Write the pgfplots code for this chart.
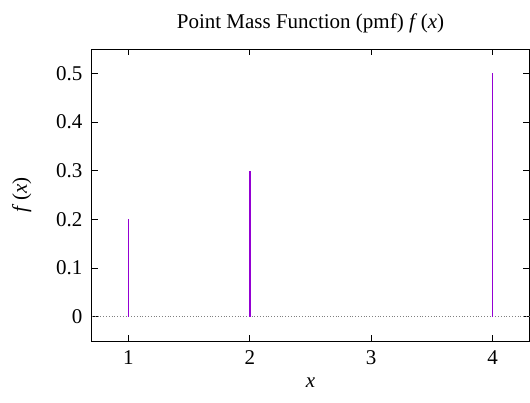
\documentclass[border=0pt]{standalone}
\usepackage{pgfplots}
\pgfplotsset{compat=1.18}
\usepackage{fontspec}
\setmainfont{Liberation Serif}
\definecolor{gpviolet}{RGB}{148,0,211}
\begin{document}
\begin{tikzpicture}[font=\fontsize{21}{25}\selectfont]
\begin{axis}[name=ax, scale only axis, width=437pt, height=292pt,
  xmin=0.7, xmax=4.3, ymin=-0.05, ymax=0.55,
  xtick={1,2,3,4}, ytick={0,0.1,0.2,0.3,0.4,0.5},
  tick align=inside, major tick length=6pt,
  tick style={black, line width=0.8pt},
  axis line style={line width=1pt},
  /pgf/number format/assume math mode=true,
  yticklabel style={/pgf/number format/fixed, /pgf/number format/precision=1},
  xticklabel style={yshift=-6pt}, yticklabel style={xshift=-6pt},
  title={Point Mass Function (pmf) \textit{f}\,(\textit{x})},
  title style={yshift=6pt},
  xlabel={\textit{x}}, ylabel={\textit{f}\,(\textit{x})},
  xlabel style={yshift=-6pt}, ylabel style={yshift=18pt},
  clip=false]
\addplot[gray, dotted, line width=0.8pt] coordinates {(0.7,0) (4.3,0)};
\addplot[ycomb, gpviolet, line width=1.6pt] coordinates {(1,0.2) (2,0.3) (4,0.5)};
\end{axis}
\path (ax.south west) ++(-92pt,-61pt);
\path (ax.north east) ++(1pt,49pt);
\end{tikzpicture}
\end{document}
